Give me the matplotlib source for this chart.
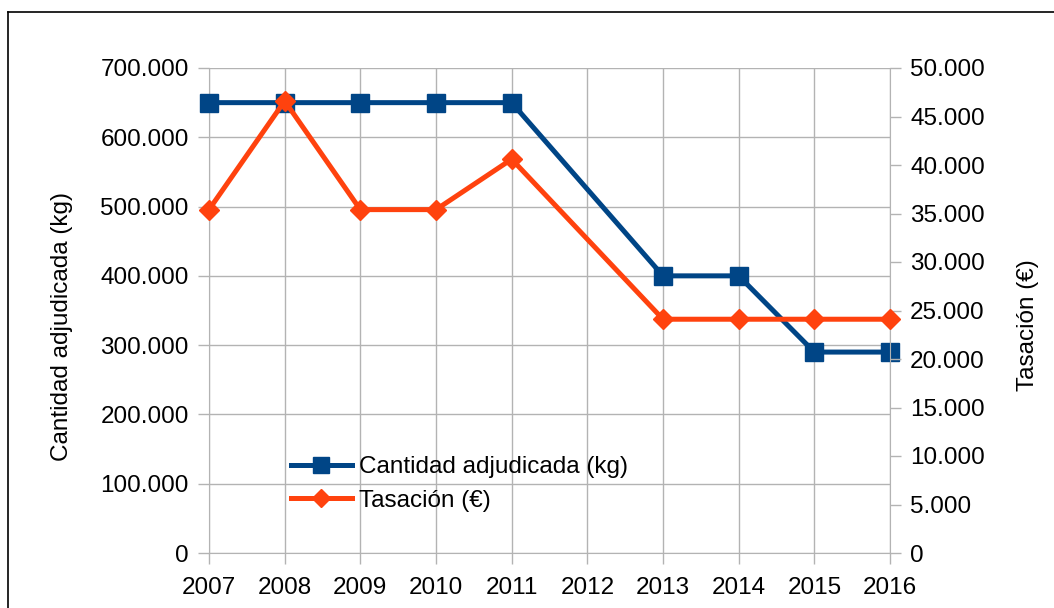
import matplotlib
matplotlib.use("Agg")
import matplotlib.pyplot as plt
from matplotlib.lines import Line2D
from matplotlib.ticker import FuncFormatter, MultipleLocator

plt.rcParams["font.family"] = ["Liberation Sans", "DejaVu Sans"]

years = ["2007", "2008", "2009", "2010", "2011", "2012", "2013", "2014", "2015", "2016"]
data_years = ["2007", "2008", "2009", "2010", "2011", "2013", "2014", "2015", "2016"]
cantidad = [650000, 650000, 650000, 650000, 650000, 400000, 400000, 290000, 290000]
tasacion = [35400, 46600, 35400, 35400, 40600, 24100, 24100, 24100, 24100]

blue = "#004586"
orange = "#ff420e"
grid = "#b3b3b3"
fs = 17.5

fig = plt.figure(figsize=(10.54, 6.08), dpi=100)
ax = fig.add_axes([209 / 1054, 55 / 608, 681 / 1054, 485 / 608])
ax2 = ax.twinx()

xpos = [years.index(y) for y in data_years]
ax.plot(xpos, cantidad, color=blue, lw=3.6, marker="s", ms=13.5, zorder=3, clip_on=False)
ax2.plot(xpos, tasacion, color=orange, lw=3.6, marker="D", ms=10, zorder=3, clip_on=False)

ax.set_xlim(0, len(years) - 1)
ax.set_xticks(range(len(years)))
ax.set_xticklabels(years)
ax.set_ylim(0, 700000)
ax.yaxis.set_major_locator(MultipleLocator(100000))
ax2.set_ylim(0, 50000)
ax2.yaxis.set_major_locator(MultipleLocator(5000))

fmt = FuncFormatter(lambda v, p: f"{v:,.0f}".replace(",", "."))
ax.yaxis.set_major_formatter(fmt)
ax2.yaxis.set_major_formatter(fmt)

ax.grid(True, color=grid, lw=1)
ax.set_axisbelow(True)
for a in (ax, ax2):
    for s in a.spines.values():
        s.set_visible(False)
    a.tick_params(colors=grid, labelcolor="black", labelsize=fs, length=8, width=1, pad=6.5)
ax.spines["left"].set_visible(True)
ax.spines["left"].set_color(grid)
ax2.spines["right"].set_visible(True)
ax2.spines["right"].set_color(grid)
ax.spines["bottom"].set_visible(True)
ax.spines["bottom"].set_color(grid)
ax.tick_params(axis="x", pad=9)

ax.set_ylabel("Cantidad adjudicada (kg)", fontsize=fs)
ax2.set_ylabel("Tasación (€)", fontsize=fs)
ax.yaxis.set_label_coords(-0.2, 0.466)
ax2.yaxis.set_label_coords(1.187, 0.47)

handles = [
    Line2D([], [], color=blue, lw=3.6, marker="s", ms=11),
    Line2D([], [], color=orange, lw=3.6, marker="D", ms=9),
]
ax2.legend(handles, ["Cantidad adjudicada (kg)", "Tasación (€)"], loc="upper left",
           bbox_to_anchor=(0.088, 0.245), frameon=False, fontsize=fs,
           handlelength=2.5, handletextpad=0.3, labelspacing=0.47)

# outer chart border
fig.add_artist(Line2D([8 / 1054, 8 / 1054], [0, 1 - 12 / 608], color="black", lw=1.2))
fig.add_artist(Line2D([8 / 1054, 1], [1 - 12 / 608, 1 - 12 / 608], color="black", lw=1.2))

fig.savefig("out.png", dpi=100)
